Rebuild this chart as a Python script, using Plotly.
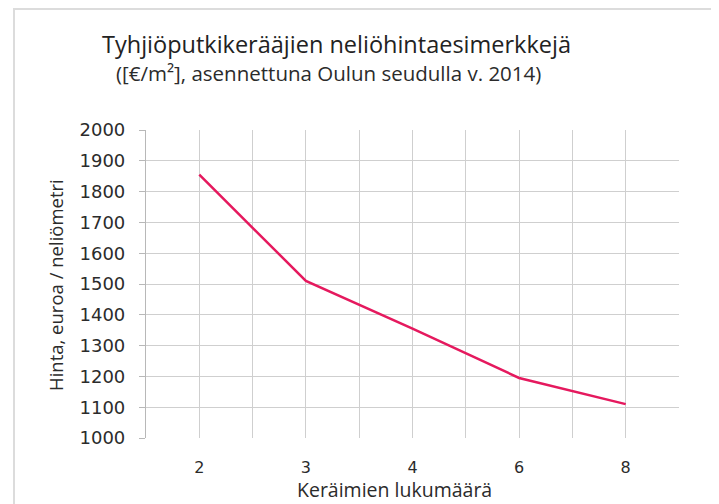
import plotly.graph_objects as go

# Data
categories = ["2", "3", "4", "6", "8"]
prices = [1855, 1510, 1355, 1195, 1110]
y_ticks = [1000, 1100, 1200, 1300, 1400, 1500, 1600, 1700, 1800, 1900, 2000]

title_text = "Tyhjiöputkikerääjien neliöhintaesimerkkejä"
subtitle_text = "([€/m²], asennettuna Oulun seudulla v. 2014)"
y_title = "Hinta, euroa / neliömetri"
x_title = "Keräimien lukumäärä"

# page offset from the default 8px body margin
OFF = 8
W, H = 719 - OFF, 504 - OFF
L, R, T, B = 146 - OFF, 40, 130 - OFF, 66
pw, ph = W - L - R, H - T - B

def px(x):
    # x in page pixels -> paper
    return (x - OFF - L) / pw

def py(y):
    # y in page pixels -> paper
    return (H - B - (y - OFF)) / ph

FONT = "Open Sans"
NUMFONT = "DejaVu Sans"
TXT = "#2b2b2b"
GRID = "#cfcfcf"
LINE = "#e5195e"

xpos = list(range(len(categories)))
grid_vals = [i * 0.5 - 0.5 for i in range(2 * len(categories) + 1)]
grid_text = []
for v in grid_vals:
    if abs(v - round(v)) < 1e-9 and 0 <= round(v) < len(categories):
        grid_text.append(categories[int(round(v))])
    else:
        grid_text.append("")

fig = go.Figure()
fig.add_trace(go.Scatter(
    x=xpos, y=prices, mode="lines",
    line=dict(color=LINE, width=2.5),
    hoverinfo="skip", showlegend=False,
))

fig.update_layout(
    width=W, height=H,
    margin=dict(l=L, r=R, t=T, b=B, pad=0),
    paper_bgcolor="white", plot_bgcolor="white",
    font=dict(family=FONT, color=TXT, size=16),
    showlegend=False,
    xaxis=dict(
        range=[-0.5, len(categories) - 0.5],
        tickmode="array", tickvals=grid_vals, ticktext=grid_text,
        showgrid=True, gridcolor=GRID, gridwidth=1.2,
        zeroline=False, showline=False, ticks="",
        ticklabelstandoff=18,
        tickfont=dict(size=16, color=TXT, family=NUMFONT),
        fixedrange=True,
    ),
    yaxis=dict(
        range=[1000, 2000],
        tickmode="array", tickvals=y_ticks,
        showgrid=True, gridcolor=GRID, gridwidth=1.2,
        zeroline=False,
        showline=True, linecolor="#b8b8b8", linewidth=1.2,
        ticks="outside", ticklen=6, tickcolor="#b8b8b8", tickwidth=1.2,
        ticklabelstandoff=10,
        tickfont=dict(size=18, color=TXT, family=NUMFONT),
        fixedrange=True,
    ),
    annotations=[
        dict(text=title_text, xref="paper", yref="paper", x=px(336), y=py(44),
             xanchor="center", yanchor="middle", showarrow=False,
             font=dict(size=23.5, color="#222222", family=FONT)),
        dict(text=subtitle_text, xref="paper", yref="paper", x=px(328), y=py(73),
             xanchor="center", yanchor="middle", showarrow=False,
             font=dict(size=20.5, color=TXT, family=FONT)),
        dict(text=y_title, xref="paper", yref="paper", x=px(55), y=py(285),
             xanchor="center", yanchor="middle", showarrow=False, textangle=-90,
             font=dict(size=18.5, color=TXT, family=FONT)),
        dict(text=x_title, xref="paper", yref="paper", x=px(394), y=py(489),
             xanchor="center", yanchor="middle", showarrow=False,
             font=dict(size=19.5, color=TXT, family=FONT)),
    ],
    shapes=[
        dict(type="rect", xref="paper", yref="paper",
             x0=px(14), x1=px(713), y0=py(9), y1=py(530),
             line=dict(color="#dcdcdc", width=2), fillcolor="rgba(0,0,0,0)",
             layer="below"),
    ],
)

fig.write_html("out.html")
